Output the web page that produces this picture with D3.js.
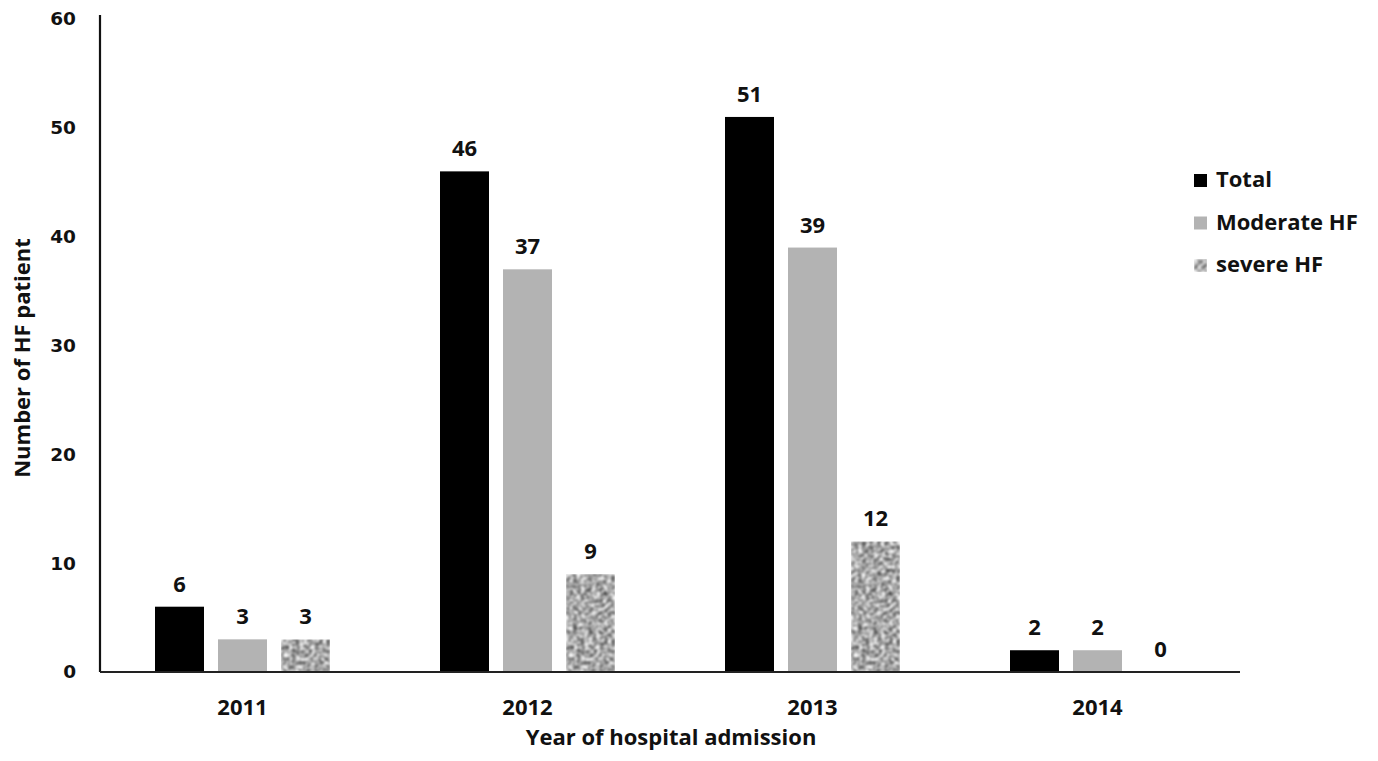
<!DOCTYPE html>
<html>
<head>
<meta charset="utf-8">
<script src="https://cdn.jsdelivr.net/npm/d3@7"></script>
<style>
  html, body { margin: 0; padding: 0; background: #fff; }
  svg { display: block; }
  text.lbl { font-family: "Open Sans", "Liberation Sans", sans-serif; font-weight: 700; fill: #111; }
  text.num { font-family: "DejaVu Sans", Verdana, sans-serif; font-weight: 700; fill: #111; }
</style>
</head>
<body>
<svg id="chart" width="1378" height="761"></svg>
<script>
// Hospital admissions for heart failure, by year and severity
const years = ["2011", "2012", "2013", "2014"];
const seriesNames = ["Total", "Moderate HF", "severe HF"];
const totalHF = [6, 46, 51, 2];
const moderateHF = [3, 37, 39, 2];
const severeHF = [3, 9, 12, 0];
const yTicks = [0, 10, 20, 30, 40, 50, 60];

const seriesValues = [totalHF, moderateHF, severeHF];

const svg = d3.select("#chart");
const plotLeft = 100, plotRight = 1240, plotTop = 19, plotBottom = 672;

const defs = svg.append("defs");
// blotchy grey speckle used for the severe HF bars
const flt = defs.append("filter").attr("id", "grain")
  .attr("x", 0).attr("y", 0).attr("width", 1).attr("height", 1)
  .attr("filterUnits", "objectBoundingBox")
  .attr("color-interpolation-filters", "sRGB");
flt.append("feTurbulence").attr("type", "fractalNoise")
  .attr("baseFrequency", 0.26).attr("numOctaves", 2).attr("seed", 11).attr("result", "noise");
flt.append("feColorMatrix").attr("in", "noise").attr("type", "matrix")
  .attr("values", "1.4 0 0 0 -0.04  1.4 0 0 0 -0.04  1.4 0 0 0 -0.04  0 0 0 0 1")
  .attr("result", "grey");
flt.append("feGaussianBlur").attr("in", "grey").attr("stdDeviation", 0.8).attr("result", "soft");
flt.append("feComposite").attr("in", "soft").attr("in2", "SourceGraphic").attr("operator", "in");

const x0 = d3.scaleBand().domain(years).range([plotLeft, plotRight]).paddingInner(0).paddingOuter(0);
// three bars + gaps centered in each year band
const groupWidth = 175;
const x1 = d3.scaleBand().domain(seriesNames)
  .range([(x0.bandwidth() - groupWidth) / 2, (x0.bandwidth() + groupWidth) / 2])
  .paddingInner(14 / 63).paddingOuter(0);

const y = d3.scaleLinear().domain([0, 60]).range([plotBottom, plotTop]);

const fills = { "Total": "#000000", "Moderate HF": "#b3b3b3", "severe HF": "#a8a8a8" };

// bars and value labels
const groups = svg.append("g").selectAll("g").data(years).join("g")
  .attr("transform", d => `translate(${x0(d)},0)`);

groups.each(function(year, i) {
  const g = d3.select(this);
  seriesNames.forEach((s, k) => {
    const v = seriesValues[k][i];
    if (v > 0) {
      const r = g.append("rect")
        .attr("x", x1(s)).attr("width", x1.bandwidth())
        .attr("y", y(v)).attr("height", y(0) - y(v))
        .attr("fill", fills[s]);
      if (s === "severe HF") r.attr("filter", "url(#grain)");
    }
    g.append("text").attr("class", "lbl")
      .attr("x", x1(s) + x1.bandwidth() / 2)
      .attr("y", y(v) - 15)
      .attr("text-anchor", "middle")
      .attr("font-size", 22)
      .text(v);
  });
});

// y axis
const yAxis = d3.axisLeft(y).tickValues(yTicks).tickSize(0).tickPadding(24);
const gy = svg.append("g").attr("transform", `translate(${plotLeft},0)`).call(yAxis);
gy.select(".domain").attr("stroke", "#111").attr("stroke-width", 2.2).attr("d", `M0,${plotTop - 4}V${plotBottom}`);
gy.selectAll(".tick text").attr("class", "num").attr("font-size", 18.5).attr("font-family", null);

// x axis
const xAxis = d3.axisBottom(x0).tickSize(0).tickPadding(0);
const gx = svg.append("g").attr("transform", `translate(0,${plotBottom})`).call(xAxis);
gx.select(".domain").attr("stroke", "#222").attr("stroke-width", 2).attr("d", `M${plotLeft},0H${plotRight}`);
gx.selectAll(".tick text").attr("class", "lbl").attr("font-size", 22)
  .attr("font-family", null).attr("dy", 0).attr("y", 43);

// axis titles
svg.append("text").attr("class", "lbl")
  .attr("x", 671).attr("y", 745)
  .attr("text-anchor", "middle").attr("font-size", 22)
  .text("Year of hospital admission");

svg.append("text").attr("class", "lbl")
  .attr("transform", `translate(30,${358}) rotate(-90)`)
  .attr("text-anchor", "middle").attr("font-size", 22)
  .text("Number of HF patient");

// legend
const legend = svg.append("g").attr("transform", "translate(1194,187)");
seriesNames.forEach((s, k) => {
  const row = legend.append("g").attr("transform", `translate(0,${k * 42.5})`);
  const sw = row.append("rect").attr("x", 0).attr("y", -13).attr("width", 13).attr("height", 13)
    .attr("fill", fills[s]);
  if (s === "severe HF") sw.attr("filter", "url(#grain)");
  row.append("text").attr("class", "lbl").attr("x", 22).attr("y", 0)
    .attr("font-size", 22).text(s);
});
</script>
</body>
</html>
